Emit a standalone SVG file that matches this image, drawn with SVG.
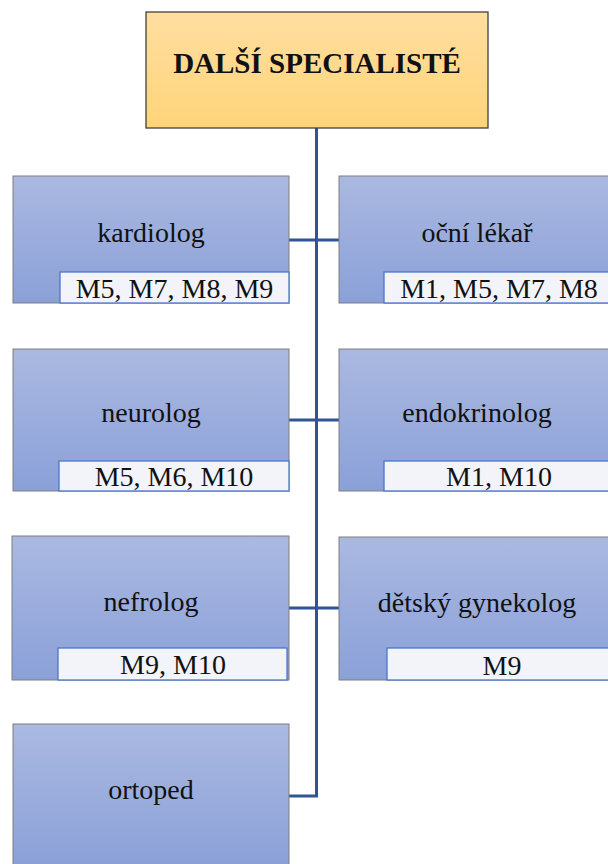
<svg xmlns="http://www.w3.org/2000/svg" width="608" height="864" viewBox="0 0 608 864">
  <style>
    .node { stroke: #7f7f7f; stroke-width: 1; fill: url(#blueFill); }
    .root { stroke: #404040; stroke-width: 1.3; fill: url(#goldFill); }
    .tag { fill: #f2f4f9; stroke: #4a78c8; stroke-width: 1.3; }
    text { font-family: 'Liberation Serif', 'Times New Roman', Tinos, 'DejaVu Serif', serif; fill: #111; text-anchor: middle; }
    .name { font-size: 28px; }
    .codes { font-size: 28px; }
    .title { font-size: 29px; font-weight: bold; }
    .link { stroke: #2f5597; stroke-width: 3; fill: none; }
  </style>
  <defs>
    <linearGradient id="blueFill" x1="0" y1="0" x2="0" y2="1">
      <stop offset="0" stop-color="#abb9e1"/>
      <stop offset="1" stop-color="#8aa0d8"/>
    </linearGradient>
    <linearGradient id="goldFill" x1="0" y1="0" x2="0" y2="1">
      <stop offset="0" stop-color="#ffdea0"/>
      <stop offset="1" stop-color="#ffd479"/>
    </linearGradient>
  </defs>

  <rect width="608" height="864" fill="#ffffff"/>

  <!-- connectors: trunk from the root down to the last branch -->
  <g id="connectors">
    <path class="link" d="M316.5,128 V796 H289"/>
    <path class="link" d="M289,240 H339"/>
    <path class="link" d="M289,420 H339"/>
    <path class="link" d="M289,608 H339"/>
  </g>

  <g font-family="Liberation Serif, serif">
  <g id="root">
    <rect class="root" x="146" y="12" width="342" height="116"/>
    <text class="title" x="317" y="73">DALŠÍ SPECIALISTÉ</text>
  </g>

  <g id="kardiolog">
    <rect class="node" x="13" y="176" width="276" height="127"/>
    <text class="name" x="151" y="242">kardiolog</text>
    <rect class="tag" x="60" y="272" width="229" height="31"/>
    <text class="codes" x="174.5" y="298">M5, M7, M8, M9</text>
  </g>

  <g id="ocni-lekar">
    <rect class="node" x="339" y="176" width="276" height="127"/>
    <text class="name" x="477" y="242">oční lékař</text>
    <rect class="tag" x="384" y="272" width="231" height="31"/>
    <text class="codes" x="499" y="298">M1, M5, M7, M8</text>
  </g>

  <g id="neurolog">
    <rect class="node" x="13" y="349" width="276" height="142"/>
    <text class="name" x="151" y="422">neurolog</text>
    <rect class="tag" x="59" y="461" width="230" height="30"/>
    <text class="codes" x="174" y="486">M5, M6, M10</text>
  </g>

  <g id="endokrinolog">
    <rect class="node" x="339" y="349" width="276" height="142"/>
    <text class="name" x="477" y="422">endokrinolog</text>
    <rect class="tag" x="384" y="461" width="231" height="30"/>
    <text class="codes" x="499" y="486">M1, M10</text>
  </g>

  <g id="nefrolog">
    <rect class="node" x="12" y="536" width="277" height="144"/>
    <text class="name" x="151" y="611">nefrolog</text>
    <rect class="tag" x="58" y="648" width="229" height="32"/>
    <text class="codes" x="173" y="674">M9, M10</text>
  </g>

  <g id="detsky-gynekolog">
    <rect class="node" x="339" y="537" width="276" height="143"/>
    <text class="name" x="477" y="612">dětský gynekolog</text>
    <rect class="tag" x="387" y="648" width="228" height="32"/>
    <text class="codes" x="502" y="675">M9</text>
  </g>

  <g id="ortoped">
    <rect class="node" x="13" y="724" width="276" height="144"/>
    <text class="name" x="151" y="799">ortoped</text>
  </g>
  </g>
</svg>
